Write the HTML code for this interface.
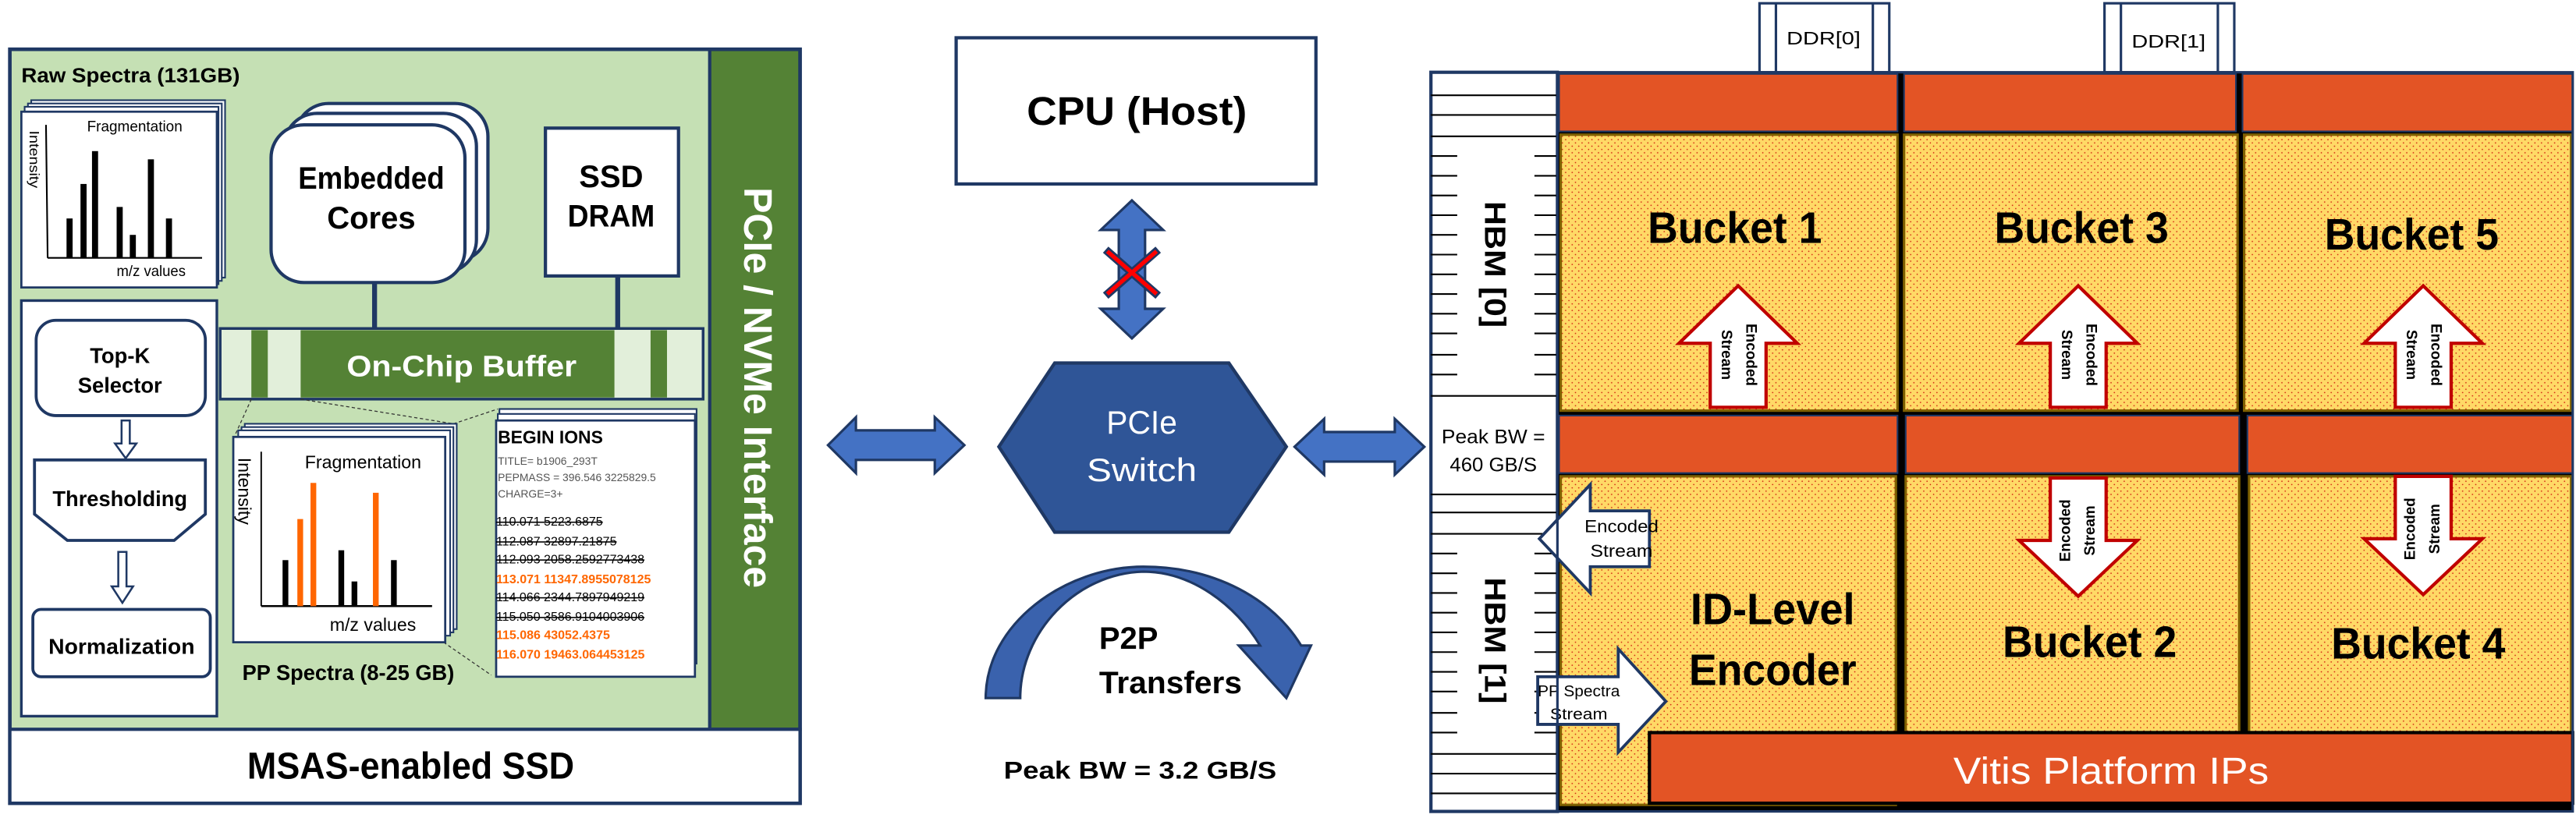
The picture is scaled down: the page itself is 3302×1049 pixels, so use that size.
<!DOCTYPE html>
<html><head><meta charset="utf-8">
<style>html,body{margin:0;padding:0;background:#fff;}svg{display:block;}</style>
</head><body>
<svg width="3302" height="1049" viewBox="0 0 1568 498" preserveAspectRatio="none" xmlns="http://www.w3.org/2000/svg" font-family="Liberation Sans, sans-serif">
<defs>
<pattern id="dots" width="4" height="4" patternUnits="userSpaceOnUse">
<rect width="4" height="4" fill="#ffd966"/>
<circle cx="1" cy="1" r="0.4" fill="#d02010"/>
<circle cx="3" cy="3" r="0.4" fill="#d02010"/>
</pattern>
</defs>
<rect width="1568" height="498" fill="#fff"/>

<!-- ============ LEFT PANEL ============ -->
<rect x="6" y="30" width="426" height="414" fill="#c5e0b4"/>
<rect x="432" y="30" width="55" height="414" fill="#548235" stroke="#1f3864" stroke-width="2"/>
<rect x="6" y="30" width="481" height="459" fill="none" stroke="#1f3864" stroke-width="2.2"/>
<rect x="6" y="444" width="481" height="45" fill="#fff" stroke="#1f3864" stroke-width="2"/>
<text x="250" y="474" font-size="23" font-weight="bold" text-anchor="middle" textLength="199" lengthAdjust="spacingAndGlyphs">MSAS-enabled SSD</text>
<text x="461" y="236" font-size="24" font-weight="bold" fill="#fff" text-anchor="middle" transform="rotate(90 461 236)" dy="8" textLength="244" lengthAdjust="spacingAndGlyphs">PCIe / NVMe Interface</text>
<text x="13" y="50" font-size="12.5" font-weight="bold" textLength="133" lengthAdjust="spacingAndGlyphs">Raw Spectra (131GB)</text>

<!-- raw spectra card stack -->
<g stroke="#1f3864" stroke-width="1" fill="#fff">
<rect x="19" y="61" width="118" height="108"/>
<rect x="17" y="63" width="118" height="108"/>
<rect x="15" y="65" width="118" height="108"/>
<rect x="13" y="68" width="119" height="107" stroke-width="1.3"/>
</g>
<g stroke="#000" stroke-width="1">
<line x1="28" y1="76" x2="29" y2="157"/><line x1="29" y1="157" x2="123" y2="157"/>
</g>
<g fill="#000">
<rect x="40.5" y="133" width="3.7" height="24"/><rect x="49" y="112" width="3.7" height="45"/><rect x="56" y="92" width="3.7" height="65"/>
<rect x="71" y="126" width="3.7" height="31"/><rect x="79" y="143" width="3.7" height="14"/><rect x="90" y="97" width="3.7" height="60"/><rect x="101" y="133" width="3.7" height="24"/>
</g>
<text x="82" y="80" font-size="9" text-anchor="middle" textLength="58" lengthAdjust="spacingAndGlyphs">Fragmentation</text>
<text x="92" y="168" font-size="9" text-anchor="middle" textLength="42" lengthAdjust="spacingAndGlyphs">m/z values</text>
<text x="21" y="97" font-size="8.5" text-anchor="middle" transform="rotate(90 21 97)" dy="3" textLength="35" lengthAdjust="spacingAndGlyphs">Intensity</text>

<!-- processing panel -->
<rect x="13" y="183" width="119" height="253" fill="#fff" stroke="#1f3864" stroke-width="1.6"/>
<rect x="22" y="195" width="103" height="58" rx="12" fill="#fff" stroke="#1f3864" stroke-width="1.8"/>
<text x="73" y="221" font-size="13" font-weight="bold" text-anchor="middle">Top-K</text>
<text x="73" y="239" font-size="13" font-weight="bold" text-anchor="middle">Selector</text>
<path d="M21,280 L125,280 L125,313 L106,329 L41,329 L21,313 Z" fill="#fff" stroke="#1f3864" stroke-width="1.8"/>
<text x="73" y="308" font-size="13" font-weight="bold" text-anchor="middle" textLength="82" lengthAdjust="spacingAndGlyphs">Thresholding</text>
<rect x="20" y="371" width="108" height="41" rx="5" fill="#fff" stroke="#1f3864" stroke-width="1.8"/>
<text x="74" y="398" font-size="13" font-weight="bold" text-anchor="middle" textLength="89" lengthAdjust="spacingAndGlyphs">Normalization</text>
<path d="M74,256 L79,256 L79,270 L83,270 L76.5,279 L70,270 L74,270 Z" fill="#fff" stroke="#1f3864" stroke-width="1.2"/>
<path d="M72,336 L77,336 L77,357 L81,357 L74.5,367 L68,357 L72,357 Z" fill="#fff" stroke="#1f3864" stroke-width="1.2"/>

<!-- embedded cores -->
<g fill="#fff" stroke="#1f3864" stroke-width="2">
<rect x="180" y="63" width="117" height="96" rx="20"/>
<rect x="173" y="69" width="117" height="97" rx="20"/>
<rect x="165" y="76" width="118" height="96" rx="20"/>
</g>
<text x="226" y="115" font-size="19" font-weight="bold" text-anchor="middle" textLength="89" lengthAdjust="spacingAndGlyphs">Embedded</text>
<text x="226" y="139" font-size="19" font-weight="bold" text-anchor="middle">Cores</text>
<rect x="332" y="78" width="81" height="90" fill="#fff" stroke="#1f3864" stroke-width="2"/>
<text x="372" y="114" font-size="19" font-weight="bold" text-anchor="middle">SSD</text>
<text x="372" y="138" font-size="19" font-weight="bold" text-anchor="middle" textLength="53" lengthAdjust="spacingAndGlyphs">DRAM</text>
<line x1="228" y1="172" x2="228" y2="201" stroke="#1f3864" stroke-width="3"/>
<line x1="376" y1="168" x2="376" y2="201" stroke="#1f3864" stroke-width="3"/>

<!-- on-chip buffer -->
<rect x="134" y="200" width="294" height="43" fill="#e2efda" stroke="#1f3864" stroke-width="1.6"/>
<rect x="153" y="201" width="10" height="41" fill="#548235"/>
<rect x="183" y="201" width="191" height="41" fill="#548235"/>
<rect x="396" y="201" width="10" height="41" fill="#548235"/>
<rect x="134" y="200" width="294" height="43" fill="none" stroke="#1f3864" stroke-width="1.6"/>
<text x="281" y="229" font-size="18" font-weight="bold" fill="#fff" text-anchor="middle" textLength="140" lengthAdjust="spacingAndGlyphs">On-Chip Buffer</text>

<!-- dashed lines -->
<g stroke="#333" stroke-width="0.6" stroke-dasharray="2,1.5">
<line x1="153" y1="243" x2="143" y2="265"/>
<line x1="183" y1="243" x2="276" y2="258"/>
<line x1="276" y1="258" x2="303" y2="249"/>
<line x1="270" y1="391" x2="299" y2="411"/>
</g>

<!-- PP spectra card -->
<g stroke="#1f3864" stroke-width="1" fill="#fff">
<rect x="149" y="258" width="129" height="125"/>
<rect x="147" y="260" width="129" height="125"/>
<rect x="145" y="262" width="129" height="125"/>
<rect x="142" y="266" width="129" height="125" stroke-width="1.3"/>
</g>
<line x1="159" y1="275" x2="159" y2="369" stroke="#000" stroke-width="0.9"/>
<line x1="159" y1="369" x2="263" y2="369" stroke="#000" stroke-width="1.2"/>
<g fill="#000"><rect x="172" y="341" width="3.5" height="28"/><rect x="206" y="335" width="3.5" height="34"/><rect x="214" y="354" width="3.5" height="15"/><rect x="238" y="341" width="3.5" height="28"/></g>
<g fill="#ff6600"><rect x="181" y="316" width="3.5" height="53"/><rect x="189" y="294" width="3.5" height="75"/><rect x="227" y="300" width="3.5" height="69"/></g>
<text x="221" y="285" font-size="11" text-anchor="middle">Fragmentation</text>
<text x="227" y="384" font-size="11" text-anchor="middle">m/z values</text>
<text x="150" y="299" font-size="11" text-anchor="middle" transform="rotate(90 150 299)" dy="5">Intensity</text>
<text x="212" y="414" font-size="13" font-weight="bold" text-anchor="middle" textLength="129" lengthAdjust="spacingAndGlyphs">PP Spectra (8-25 GB)</text>

<!-- IONS card -->
<g stroke="#1f3864" stroke-width="1" fill="#fff">
<rect x="304" y="249" width="120" height="155"/>
<rect x="303" y="252" width="120" height="156"/>
<rect x="302" y="256" width="121" height="156" stroke-width="1.3"/>
</g>
<text x="303" y="270" font-size="11" font-weight="bold" textLength="64" lengthAdjust="spacingAndGlyphs">BEGIN IONS</text>
<g font-size="6.6" fill="#555">
<text x="303" y="283">TITLE= b1906_293T</text>
<text x="303" y="293">PEPMASS = 396.546 3225829.5</text>
<text x="303" y="303">CHARGE=3+</text>
</g>
<g font-size="7.6" fill="#000" text-decoration="line-through">
<text x="302" y="320">110.071 5223.6875</text>
<text x="302" y="332">112.087 32897.21875</text>
<text x="302" y="343">112.093 2058.2592773438</text>
<text x="302" y="366">114.066 2344.7897949219</text>
<text x="302" y="378">115.050 3586.9104003906</text>
</g>
<g font-size="7.6" fill="#ff6600" font-weight="bold">
<text x="302" y="355">113.071 11347.8955078125</text>
<text x="302" y="389">115.086 43052.4375</text>
<text x="302" y="401">116.070 19463.064453125</text>
</g>

<!-- ============ MIDDLE ============ -->
<rect x="582" y="23" width="219" height="89" fill="#fff" stroke="#1f3864" stroke-width="2"/>
<text x="692" y="76" font-size="24" font-weight="bold" text-anchor="middle" textLength="134" lengthAdjust="spacingAndGlyphs">CPU (Host)</text>

<path d="M689,122 L708,140 L697,140 L697,188 L708,188 L689,206 L670,188 L681,188 L681,140 L670,140 Z" fill="#4472c4" stroke="#1f3864" stroke-width="1.5"/>
<g stroke-linecap="butt">
<line x1="673" y1="152" x2="705" y2="180" stroke="#1f3864" stroke-width="5"/>
<line x1="705" y1="152" x2="673" y2="180" stroke="#1f3864" stroke-width="5"/>
<line x1="674" y1="153" x2="704" y2="179" stroke="#ff0000" stroke-width="2.5"/>
<line x1="704" y1="153" x2="674" y2="179" stroke="#ff0000" stroke-width="2.5"/>
</g>

<path d="M608,272 L642,221 L748,221 L783,272 L748,324 L642,324 Z" fill="#2f5597" stroke="#1f3864" stroke-width="2"/>
<text x="695" y="264" font-size="20" fill="#fff" text-anchor="middle" textLength="43" lengthAdjust="spacingAndGlyphs">PCIe</text>
<text x="695" y="293" font-size="20" fill="#fff" text-anchor="middle" textLength="67" lengthAdjust="spacingAndGlyphs">Switch</text>

<path d="M504,271 L521,254 L521,262 L569,262 L569,254 L587,271 L569,288 L569,280 L521,280 L521,288 Z" fill="#4472c4" stroke="#1f3864" stroke-width="1.5"/>
<path d="M788,272 L806,255 L806,263 L849,263 L849,255 L867,272 L849,289 L849,281 L806,281 L806,289 Z" fill="#4472c4" stroke="#1f3864" stroke-width="1.5"/>

<path d="M600,425 C600,380 648,345 696,345 C740,345 775,365 792,393 L798,393 L783,425 L754,393 L767,393 C752,368 725,348 696,348 C655,349 621,385 621,425 Z" fill="#3a62ad" stroke="#1f3864" stroke-width="1.5"/>
<text x="669" y="395" font-size="19" font-weight="bold">P2P</text>
<text x="669" y="422" font-size="19" font-weight="bold" textLength="87" lengthAdjust="spacingAndGlyphs">Transfers</text>
<text x="611" y="474" font-size="15" font-weight="bold" textLength="166" lengthAdjust="spacingAndGlyphs">Peak BW = 3.2 GB/S</text>

<!-- ============ RIGHT ============ -->
<g fill="#fff" stroke="#1f3864" stroke-width="1.5">
<rect x="1071" y="2" width="79" height="42"/>
<line x1="1081" y1="2" x2="1081" y2="44"/><line x1="1140" y1="2" x2="1140" y2="44"/>
<rect x="1281" y="2" width="79" height="42"/>
<line x1="1291" y1="2" x2="1291" y2="44"/><line x1="1350" y1="2" x2="1350" y2="44"/>
</g>
<text x="1110" y="27" font-size="11" text-anchor="middle" textLength="45" lengthAdjust="spacingAndGlyphs">DDR[0]</text>
<text x="1320" y="29" font-size="11" text-anchor="middle" textLength="45" lengthAdjust="spacingAndGlyphs">DDR[1]</text>

<rect x="871" y="44" width="77" height="450" fill="#fff" stroke="#1f3864" stroke-width="2"/>
<g stroke="#000" stroke-width="1">
<line x1="871" y1="58" x2="948" y2="58"/><line x1="871" y1="70" x2="948" y2="70"/><line x1="871" y1="83" x2="948" y2="83"/>
<line x1="871" y1="241" x2="948" y2="241"/>
<line x1="871" y1="301" x2="948" y2="301"/><line x1="871" y1="312" x2="948" y2="312"/><line x1="871" y1="325" x2="948" y2="325"/>
<line x1="871" y1="459" x2="948" y2="459"/><line x1="871" y1="471" x2="948" y2="471"/><line x1="871" y1="483" x2="948" y2="483"/>
</g>
<g stroke="#000" stroke-width="1">
<path d="M871,95h16M871,107h16M871,119h16M871,131h16M871,143h16M871,155h16M871,167h16M871,179h16M871,191h16M871,203h16M871,216h16M871,228h16
M934,95h14M934,107h14M934,119h14M934,131h14M934,143h14M934,155h14M934,167h14M934,179h14M934,191h14M934,203h14M934,216h14M934,228h14
M871,337h16M871,349h16M871,361h16M871,373h16M871,385h16M871,397h16M871,409h16M871,421h16M871,434h16M871,446h16
M934,337h14M934,349h14M934,361h14M934,373h14M934,385h14M934,397h14M934,409h14M934,421h14M934,434h14M934,446h14"/>
</g>
<text x="910" y="161" font-size="18" font-weight="bold" text-anchor="middle" transform="rotate(90 910 161)" dy="6" textLength="77" lengthAdjust="spacingAndGlyphs">HBM [0]</text>
<text x="910" y="390" font-size="18" font-weight="bold" text-anchor="middle" transform="rotate(90 910 390)" dy="6" textLength="77" lengthAdjust="spacingAndGlyphs">HBM [1]</text>
<text x="909" y="270" font-size="12" text-anchor="middle" textLength="63" lengthAdjust="spacingAndGlyphs">Peak BW =</text>
<text x="909" y="287" font-size="12" text-anchor="middle" textLength="53" lengthAdjust="spacingAndGlyphs">460 GB/S</text>

<rect x="948" y="44" width="618" height="450" fill="#000"/>
<g fill="#e35425" stroke="#1f3864" stroke-width="1">
<rect x="949" y="45" width="206" height="35"/>
<rect x="1159" y="45" width="202" height="35"/>
<rect x="1365" y="45" width="201" height="35"/>
<rect x="949" y="253" width="206" height="35"/>
<rect x="1160" y="253" width="203" height="35"/>
<rect x="1368" y="253" width="198" height="35"/>
</g>
<g fill="url(#dots)" stroke="#7f6000" stroke-width="1.5">
<rect x="950" y="82" width="205" height="168"/>
<rect x="1159" y="82" width="203" height="168"/>
<rect x="1366" y="82" width="199" height="168"/>
<rect x="950" y="290" width="204" height="200"/>
<rect x="1160" y="290" width="203" height="156"/>
<rect x="1369" y="290" width="196" height="156"/>
</g>
<rect x="1004" y="446" width="562" height="43" fill="#e35425" stroke="#000" stroke-width="2"/>
<text x="1285" y="477" font-size="23" fill="#fff" text-anchor="middle" textLength="192" lengthAdjust="spacingAndGlyphs">Vitis Platform IPs</text>

<g font-size="27" font-weight="bold" text-anchor="middle">
<text x="1056" y="148" textLength="106" lengthAdjust="spacingAndGlyphs">Bucket 1</text>
<text x="1267" y="148" textLength="106" lengthAdjust="spacingAndGlyphs">Bucket 3</text>
<text x="1468" y="152" textLength="106" lengthAdjust="spacingAndGlyphs">Bucket 5</text>
<text x="1272" y="400" textLength="106" lengthAdjust="spacingAndGlyphs">Bucket 2</text>
<text x="1472" y="401" textLength="106" lengthAdjust="spacingAndGlyphs">Bucket 4</text>
<text x="1079" y="380" textLength="100" lengthAdjust="spacingAndGlyphs">ID-Level</text>
<text x="1079" y="417" textLength="102" lengthAdjust="spacingAndGlyphs">Encoder</text>
</g>

<g fill="#fff" stroke="#c00000" stroke-width="2">
<path d="M1058,174 L1094,209 L1075,209 L1075,248 L1041,248 L1041,209 L1022,209 Z"/>
<path d="M1265,174 L1301,209 L1282,209 L1282,248 L1248,248 L1248,209 L1229,209 Z"/>
<path d="M1475,174 L1511,209 L1492,209 L1492,248 L1458,248 L1458,209 L1439,209 Z"/>
<path d="M1265,363 L1301,329 L1282,329 L1282,291 L1248,291 L1248,329 L1229,329 Z"/>
<path d="M1475,362 L1511,328 L1492,328 L1492,290 L1458,290 L1458,328 L1439,328 Z"/>
</g>
<g font-size="9" font-weight="bold" text-anchor="middle">
<text transform="translate(1066,216) rotate(90)" dy="3">Encoded</text>
<text transform="translate(1051,216) rotate(90)" dy="3">Stream</text>
<text transform="translate(1273,216) rotate(90)" dy="3">Encoded</text>
<text transform="translate(1258,216) rotate(90)" dy="3">Stream</text>
<text transform="translate(1483,216) rotate(90)" dy="3">Encoded</text>
<text transform="translate(1468,216) rotate(90)" dy="3">Stream</text>
<text transform="translate(1257,323) rotate(-90)" dy="3">Encoded</text>
<text transform="translate(1272,323) rotate(-90)" dy="3">Stream</text>
<text transform="translate(1467,322) rotate(-90)" dy="3">Encoded</text>
<text transform="translate(1482,322) rotate(-90)" dy="3">Stream</text>
</g>

<path d="M937,328 L968,295 L968,311 L1004,311 L1004,345 L968,345 L968,361 Z" fill="#fff" stroke="#1f3864" stroke-width="1.8"/>
<text x="987" y="324" font-size="10.5" text-anchor="middle" textLength="45" lengthAdjust="spacingAndGlyphs">Encoded</text>
<text x="987" y="339" font-size="10.5" text-anchor="middle" textLength="38" lengthAdjust="spacingAndGlyphs">Stream</text>
<path d="M936,412 L985,412 L985,395 L1014,427 L985,458 L985,441 L936,441 Z" fill="#fff" stroke="#1f3864" stroke-width="1.8"/>
<text x="961" y="424" font-size="9.5" text-anchor="middle" textLength="50" lengthAdjust="spacingAndGlyphs">PP Spectra</text>
<text x="961" y="438" font-size="9.5" text-anchor="middle" textLength="35" lengthAdjust="spacingAndGlyphs">Stream</text>

<rect x="948" y="44" width="618" height="450" fill="none" stroke="#1f3864" stroke-width="1.5"/>
</svg>
</body></html>
